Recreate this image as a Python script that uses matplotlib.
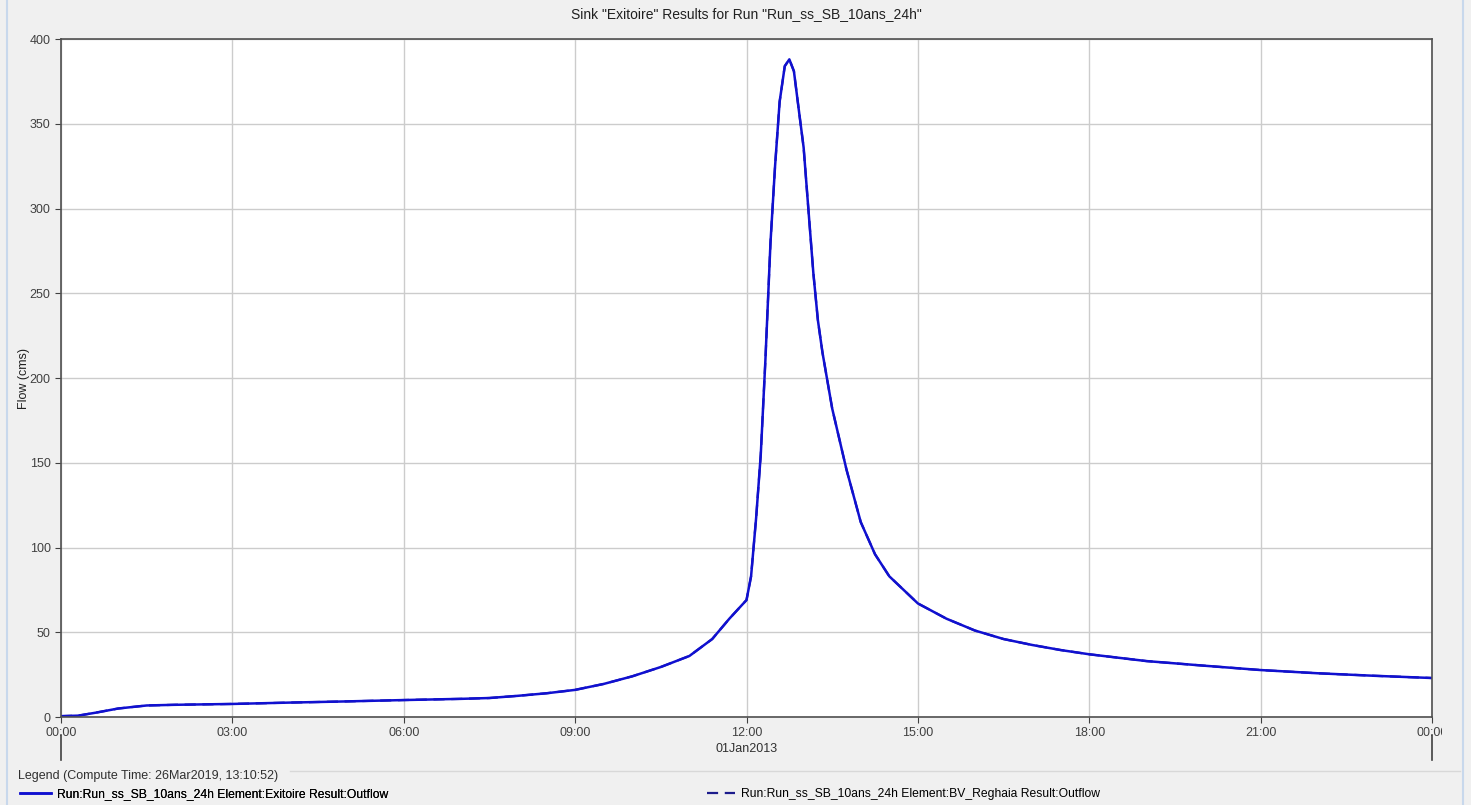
import matplotlib
matplotlib.use("Agg")
import matplotlib.pyplot as plt
import matplotlib.transforms as mtransforms
from matplotlib.lines import Line2D

plt.rcParams['font.family'] = ['Liberation Sans', 'DejaVu Sans']

# Hydrograph (hours after 01Jan2013 00:00, flow in cms)
hours = [0, 0.3, 0.6, 1.0, 1.5, 2.0, 3.0, 4.0, 5.0, 6.0, 7.0, 7.5, 8.0, 8.5,
         9.0, 9.5, 10.0, 10.5, 11.0, 11.4, 11.7, 12.0, 12.08, 12.17, 12.25,
         12.33, 12.42, 12.5, 12.58, 12.67, 12.75, 12.83, 12.92, 13.0, 13.08,
         13.17, 13.25, 13.33, 13.5, 13.75, 14.0, 14.25, 14.5, 15.0, 15.5,
         16.0, 16.5, 17.0, 17.5, 18.0, 19.0, 20.0, 21.0, 22.0, 23.0, 24.0]
outflow = [0.5, 0.8, 2.5, 5.0, 6.8, 7.2, 7.7, 8.5, 9.2, 10.0, 10.7, 11.2, 12.5, 14.0,
           16.0, 19.5, 24.0, 29.5, 36.0, 46.0, 58.0, 69.0, 83.0, 118.0, 155.0,
           210.0, 280.0, 325.0, 363.0, 384.0, 388.0, 381.0, 357.0, 336.0, 301.0,
           262.0, 234.0, 215.0, 182.0, 146.0, 115.0, 96.0, 83.0, 67.0, 58.0,
           51.0, 46.0, 42.5, 39.5, 37.0, 33.0, 30.3, 27.7, 25.8, 24.3, 23.0]
# BV_Reghaia outflow is the same hydrograph (drawn dashed underneath)
reghaia = list(outflow)

tick_hours = [0, 3, 6, 9, 12, 15, 18, 21, 24]
tick_labels = ["00:00", "03:00", "06:00", "09:00", "12:00", "15:00", "18:00", "21:00", "00:00"]
y_ticks = [0, 50, 100, 150, 200, 250, 300, 350, 400]

title = 'Sink "Exitoire" Results for Run "Run_ss_SB_10ans_24h"'
label1 = "Run:Run_ss_SB_10ans_24h Element:Exitoire Result:Outflow"
label2 = "Run:Run_ss_SB_10ans_24h Element:BV_Reghaia Result:Outflow"

fig = plt.figure(figsize=(14.71, 8.05), dpi=100, facecolor="#f0f0f0")
ax = fig.add_axes([61 / 1471, 1 - 717 / 805, (1432 - 61) / 1471, (717 - 39) / 805])
ax.set_facecolor("white")

h2, = ax.plot(hours, reghaia, color="#1c1c8c", lw=1.6, ls=(0, (5, 3)))
h1, = ax.plot(hours, outflow, color="#1010d0", lw=1.8)

ax.set_xlim(0, 24)
ax.set_ylim(0, 400)
ax.set_xticks(tick_hours)
ax.set_xticklabels(tick_labels)
ax.set_yticks(y_ticks)
ax.grid(True, color="#cccccc", lw=1)
ax.set_axisbelow(True)
for s in ax.spines.values():
    s.set_color("#505050")
    s.set_linewidth(1.2)
ax.tick_params(colors="#404040", labelsize=9, length=4, direction="out")
ax.tick_params(axis="x", pad=3)
ax.set_ylabel("Flow (cms)", fontsize=9, color="#202020", labelpad=0)
ax.set_title(title, fontsize=10, color="#202020", pad=15)

# clip the last tick label like the window edge does
clip = mtransforms.TransformedBbox(mtransforms.Bbox([[0, 0], [1442, 805]]),
                                   mtransforms.IdentityTransform())
ax.get_xticklabels()[-1].set_clip_box(clip)
ax.get_xticklabels()[-1].set_clip_on(True)

# date markers under the time axis
trans = mtransforms.blended_transform_factory(ax.transData, ax.transAxes)
for hx in [0, 24]:
    ax.plot([hx, hx], [-0.026, -0.064], color="#404040", lw=1.2,
            transform=trans, clip_on=False)
ax.text(12, -0.047, "01Jan2013", transform=trans, ha="center", va="center",
        fontsize=9, color="#303030")

# panel borders and legend box
fig.add_artist(Line2D([7 / 1471, 7 / 1471], [0, 1], color="#c8d8ec", lw=1.5))
fig.add_artist(Line2D([1463 / 1471, 1463 / 1471], [0, 1], color="#c8d8ec", lw=1.5))
fig.add_artist(Line2D([290 / 1471, 1460 / 1471], [1 - 771 / 805, 1 - 771 / 805],
                      color="#d8d8d8", lw=1))
fig.text(18 / 1471, 1 - 776 / 805, "Legend (Compute Time: 26Mar2019, 13:10:52)",
         fontsize=9, color="#303030", va="center")

leg1 = fig.legend([h1], [label1], loc="center left", bbox_to_anchor=(9 / 1471, 1 - 794 / 805),
                  frameon=False, fontsize=8.7, handlelength=2.6, handletextpad=0.5)
fig.add_artist(leg1)
leg2 = fig.legend([h2], [label2], loc="center left", bbox_to_anchor=(696 / 1471, 1 - 794 / 805),
                  frameon=False, fontsize=8.7, handlelength=2.3, handletextpad=0.5)

fig.savefig("out.png", dpi=100, facecolor=fig.get_facecolor())
